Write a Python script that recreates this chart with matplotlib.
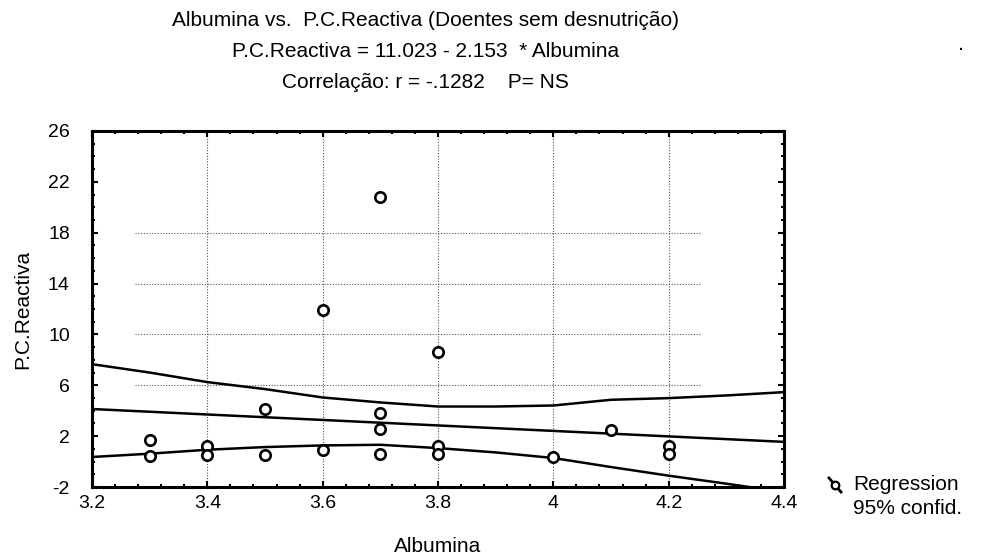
import numpy as np
import matplotlib
matplotlib.use("Agg")
import matplotlib.pyplot as plt
from matplotlib.ticker import MultipleLocator
from matplotlib.lines import Line2D

plt.rcParams['font.family'] = ['Liberation Sans', 'DejaVu Sans']
plt.rcParams['axes.unicode_minus'] = False

# Data
albumina = [3.3, 3.3, 3.4, 3.4, 3.5, 3.5, 3.6, 3.6,
            3.7, 3.7, 3.7, 3.7, 3.8, 3.8, 3.8, 4.0, 4.1, 4.2, 4.2]
pcr = [1.66, 0.46, 1.22, 0.48, 4.13, 0.48, 11.93, 0.93,
       20.83, 3.84, 2.56, 0.62, 8.65, 1.24, 0.62, 0.33, 2.5, 1.19, 0.62]

# regression from the title: P.C.Reactiva = 11.023 - 2.153 * Albumina
intercept = 11.023
slope = -2.153

# 95% confidence band, read at 0.1 steps
band_x = [3.2, 3.3, 3.4, 3.5, 3.6, 3.7, 3.8, 3.9, 4.0, 4.1, 4.2, 4.3, 4.4]
band_upper = [7.66, 7.0, 6.25, 5.70, 5.04, 4.65, 4.33, 4.33, 4.41, 4.86, 4.99, 5.2, 5.46]
band_lower = [0.36, 0.62, 0.93, 1.14, 1.27, 1.32, 1.06, 0.72, 0.28, -0.43, -1.11, -1.74, -2.4]

x_ticks = [3.2, 3.4, 3.6, 3.8, 4.0, 4.2, 4.4]
x_ticklabels = ['3.2', '3.4', '3.6', '3.8', '4', '4.2', '4.4']
y_ticks = [-2, 2, 6, 10, 14, 18, 22, 26]

title_lines = ["Albumina vs.  P.C.Reactiva (Doentes sem desnutrição)",
               "P.C.Reactiva = 11.023 - 2.153  * Albumina",
               "Correlação: r = -.1282    P= NS"]

fig = plt.figure(figsize=(9.81, 5.59), dpi=100)
ax = fig.add_axes([0.0938, 0.1288, 0.7054, 0.6369])

# dotted grid
for gx in x_ticks[1:-1]:
    ax.axvline(gx, color='#555555', lw=0.8, ls=(0, (1, 1.5)), zorder=1)
ax.hlines([6, 10, 14, 18], 3.275, 4.255, color='#555555', lw=0.8,
          ls=(0, (1, 1.5)), zorder=1)

xs = np.array([3.2, 4.4])
ax.plot(xs, intercept + slope * xs, color='black', lw=1.8, zorder=3)
ax.plot(band_x, band_upper, color='black', lw=1.8, zorder=3)
ax.plot(band_x, band_lower, color='black', lw=1.8, zorder=3)

ax.plot(albumina, pcr, 'o', mfc='white', mec='black', ms=7.5, mew=1.9,
        ls='none', zorder=4)

ax.set_xlim(3.2, 4.4)
ax.set_ylim(-2, 26)
ax.set_xticks(x_ticks)
ax.set_xticklabels(x_ticklabels)
ax.set_yticks(y_ticks)
ax.xaxis.set_minor_locator(MultipleLocator(0.04))
ax.yaxis.set_minor_locator(MultipleLocator(1))
ax.tick_params(which='both', direction='in', top=True, right=True,
               labelsize=14, width=1.5)
ax.tick_params(which='major', length=4)
ax.tick_params(which='minor', length=2.5)
ax.tick_params(axis='x', which='major', pad=6)
ax.tick_params(axis='y', which='major', pad=16)
for sp in ax.spines.values():
    sp.set_linewidth(2.2)

ax.set_xlabel('Albumina', fontsize=15, labelpad=18)
ax.set_ylabel('P.C.Reactiva', fontsize=15, labelpad=11)

for i, t in enumerate(title_lines):
    fig.text(0.434, 1 - (20 + 31.5 * i) / 559, t, ha='center', va='center',
             fontsize=15)

# legend outside the plot, bottom right
fig.add_artist(Line2D([829 / 981, 841 / 981], [1 - 478 / 559, 1 - 492 / 559],
                      color='black', lw=2, transform=fig.transFigure))
fig.add_artist(Line2D([835 / 981], [1 - 485 / 559], marker='o', mfc='white',
                      mec='black', ms=5.5, mew=1.6, transform=fig.transFigure))
fig.text(853 / 981, 1 - 485 / 559, 'Regression', fontsize=15, va='center')
fig.text(853 / 981, 1 - 508 / 559, '95% confid.', fontsize=15, va='center')

# stray dot at the top right of the scan
fig.text(961 / 981, 1 - 45 / 559, '.', fontsize=16, ha='center', va='center')

fig.savefig('out.png', dpi=100)
